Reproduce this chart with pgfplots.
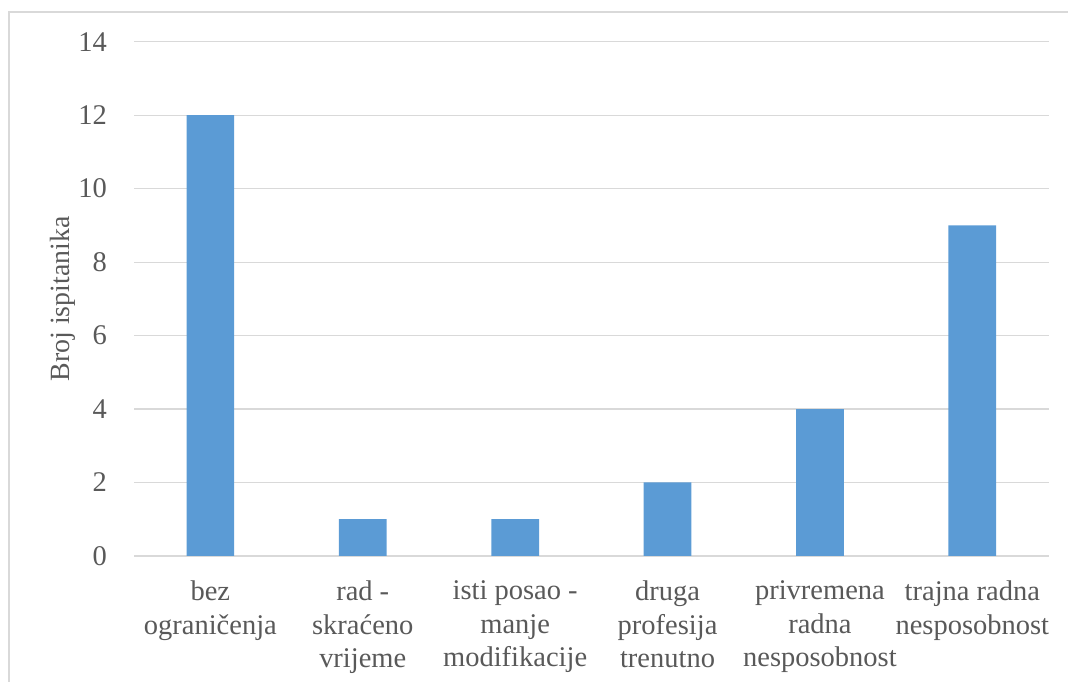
\documentclass[border=0pt]{standalone}
\usepackage{fontspec}
\setmainfont{Liberation Serif}
\usepackage{pgfplots}
\pgfplotsset{compat=1.18}
\definecolor{barblue}{HTML}{5B9BD5}
\definecolor{gridgray}{HTML}{D9D9D9}
\definecolor{txtgray}{HTML}{595959}
\begin{document}
\begin{tikzpicture}[x=1pt,y=1pt]
\begin{axis}[
    name=ax,
    scale only axis,
    width=690pt, height=388pt,
    ybar, bar width=36pt,
    xmin=-0.5, xmax=5.5,
    ymin=0, ymax=14,
    ytick={0,2,...,14},
    xtick=data,
    xticklabels={bez\\ograničenja, rad -\\skraćeno\\vrijeme, isti posao -\\manje\\modifikacije, druga\\profesija\\trenutno, privremena\\radna\\nesposobnost, trajna radna\\nesposobnost},
    axis x line*=bottom,
    axis y line*=left,
    y axis line style={draw=none},
    ymajorgrids,
    grid style={gridgray, line width=0.9pt},
    x axis line style={gridgray, line width=0.9pt},
    major tick length=0pt,
    tick style={draw=none},
    /pgf/number format/assume math mode=true,
    ticklabel style={font=\fontsize{21.5}{25.5}\selectfont, text=txtgray},
    xticklabel style={align=center, anchor=north, yshift=-15pt},
    yticklabel style={anchor=east, xshift=-17pt},
    ylabel={Broj ispitanika},
    every axis y label/.style={at={(rel axis cs:0,0.5)}, xshift=-54pt, rotate=90, anchor=center,
        font=\fontsize{21}{24}\selectfont, text=txtgray},
    clip=false,
]
\addplot[fill=barblue, draw=none] coordinates {(0,12) (1,1) (2,1) (3,2) (4,4) (5,9)};
\end{axis}
\pgfresetboundingbox
\path ([xshift=-101.25pt, yshift=-90.75pt]ax.south west) rectangle ([xshift=10.5pt, yshift=31.5pt]ax.north east);
\draw[gridgray, line width=0.9pt] ([xshift=-94.5pt, yshift=-95pt]ax.south west) -- ([xshift=-94.5pt, yshift=22.5pt]ax.north west) -- ([xshift=15pt, yshift=22.5pt]ax.north east);
\end{tikzpicture}
\end{document}
